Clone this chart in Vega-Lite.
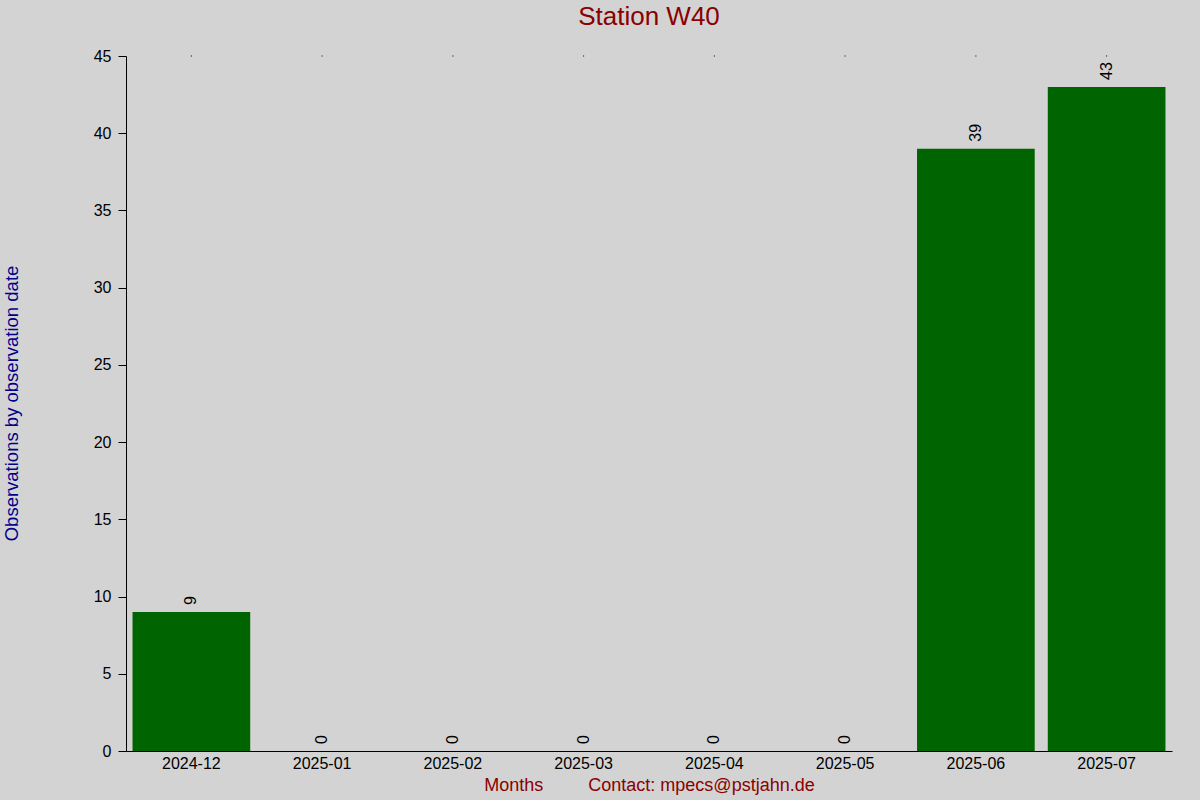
{
  "$schema": "https://vega.github.io/schema/vega-lite/v6.json",
  "width": 1046,
  "height": 695,
  "autosize": "none",
  "padding": {"left": 126, "top": 56, "right": 28, "bottom": 49},
  "background": "#d3d3d3",
  "title": {
    "text": "Station W40",
    "color": "#8b0000",
    "fontSize": 26,
    "fontWeight": "normal",
    "font": "Liberation Sans",
    "anchor": "middle",
    "offset": 18
  },
  "data": {
    "values": [
      {"month": "2024-12", "count": 9},
      {"month": "2025-01", "count": 0},
      {"month": "2025-02", "count": 0},
      {"month": "2025-03", "count": 0},
      {"month": "2025-04", "count": 0},
      {"month": "2025-05", "count": 0},
      {"month": "2025-06", "count": 39},
      {"month": "2025-07", "count": 43}
    ]
  },
  "encoding": {
    "x": {
      "field": "month",
      "type": "ordinal",
      "sort": null,
      "scale": {"paddingInner": 0.1, "paddingOuter": 0.05},
      "axis": {
        "title": "Months\u00a0\u00a0\u00a0\u00a0\u00a0\u00a0\u00a0\u00a0\u00a0Contact: mpecs@pstjahn.de",
        "titleColor": "#8b0000",
        "titleFontSize": 18,
        "titleFontWeight": "normal",
        "titleFont": "Liberation Sans",
        "titlePadding": 5,
        "labelAngle": 0,
        "labelFontSize": 16,
        "labelFont": "Liberation Sans",
        "labelColor": "#000000",
        "labelPadding": 4,
        "ticks": false,
        "domainColor": "#000000",
        "grid": false
      }
    },
    "y": {
      "field": "count",
      "type": "quantitative",
      "scale": {"domain": [0, 45], "nice": false},
      "axis": {
        "title": "Observations by observation date",
        "titleColor": "#00008b",
        "titleFontSize": 18.5,
        "titleFontWeight": "normal",
        "titleFont": "Liberation Sans",
        "titleAngle": -90,
        "titleAlign": "center",
        "titleBaseline": "middle",
        "titleX": -115,
        "titleY": 347,
        "values": [0, 5, 10, 15, 20, 25, 30, 35, 40, 45],
        "labelFontSize": 16,
        "labelFont": "Liberation Sans",
        "labelColor": "#000000",
        "labelPadding": 7,
        "tickSize": 8,
        "tickColor": "#000000",
        "domainColor": "#000000",
        "grid": false
      }
    }
  },
  "layer": [
    {
      "mark": {"type": "bar", "color": "#006400"}
    },
    {
      "mark": {
        "type": "text",
        "angle": 270,
        "align": "left",
        "baseline": "middle",
        "dx": 7,
        "fontSize": 16,
        "font": "Liberation Sans",
        "color": "#000000"
      },
      "encoding": {"text": {"field": "count", "type": "quantitative"}}
    },
    {
      "mark": {"type": "square", "size": 1, "color": "#000000", "opacity": 1},
      "encoding": {"y": {"datum": 45}}
    }
  ],
  "config": {
    "view": {"stroke": null}
  }
}
